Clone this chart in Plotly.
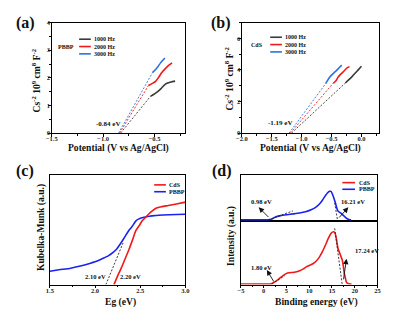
import plotly.graph_objects as go

W, H = 399, 314
FONT = "Liberation Serif"

# ---------------- data ----------------
# (a) PBBP Mott-Schottky
a_1000_x = [-0.54, -0.50, -0.47, -0.44, -0.41, -0.38, -0.34, -0.30]
a_1000_y = [1.33, 1.42, 1.50, 1.60, 1.72, 1.80, 1.85, 1.88]
a_2000_x = [-0.56, -0.52, -0.49, -0.46, -0.43, -0.39, -0.36, -0.33]
a_2000_y = [1.72, 1.80, 1.87, 2.02, 2.19, 2.35, 2.46, 2.54]
a_3000_x = [-0.52, -0.49, -0.47, -0.44, -0.40]
a_3000_y = [2.19, 2.30, 2.39, 2.55, 2.72]
a_fit_1000_x = [-0.83, -0.54]
a_fit_2000_x = [-0.84, -0.56]
a_fit_3000_x = [-0.85, -0.52]
a_fit_1000_y = [0, 1.33]
a_fit_2000_y = [0, 1.72]
a_fit_3000_y = [0, 2.19]

# (b) CdS Mott-Schottky
b_1000_x = [-0.27, -0.22, -0.15, -0.10, -0.05, 0.0]
b_1000_y = [3.17, 3.35, 3.61, 3.82, 4.02, 4.23]
b_2000_x = [-0.47, -0.43, -0.39, -0.35, -0.31, -0.24, -0.20]
b_2000_y = [3.17, 3.30, 3.55, 3.72, 3.86, 4.13, 4.21]
b_3000_x = [-0.60, -0.53, -0.47, -0.42, -0.37, -0.33]
b_3000_y = [3.13, 3.55, 3.78, 3.96, 4.15, 4.30]
b_fit_1000_x = [-1.17, -0.27]
b_fit_2000_x = [-1.19, -0.47]
b_fit_3000_x = [-1.21, -0.60]
b_fit_1000_y = [0, 3.17]
b_fit_2000_y = [0, 3.17]
b_fit_3000_y = [0, 3.13]

# (c) Kubelka-Munk
c_cds_x = [2.21, 2.25, 2.29, 2.34, 2.38, 2.42, 2.45, 2.49, 2.52, 2.56, 2.59, 2.63, 2.68, 2.74, 2.81, 2.90, 3.0]
c_cds_y = [0.0, 0.08, 0.15, 0.25, 0.33, 0.42, 0.49, 0.54, 0.58, 0.615, 0.64, 0.67, 0.70, 0.712, 0.722, 0.736, 0.753]
c_pbbp_x = [1.5, 1.6, 1.73, 1.85, 1.95, 2.03, 2.09, 2.15, 2.2, 2.24, 2.27, 2.31, 2.34, 2.37, 2.40, 2.43, 2.45, 2.48, 2.52, 2.57, 2.63, 2.75, 2.9, 3.0]
c_pbbp_y = [0.122, 0.135, 0.15, 0.172, 0.196, 0.218, 0.24, 0.265, 0.295, 0.325, 0.36, 0.41, 0.45, 0.49, 0.52, 0.555, 0.58, 0.598, 0.61, 0.62, 0.628, 0.635, 0.64, 0.643]
c_fit_x = [2.12, 2.31]
c_fit_y = [0.0, 0.38]

# (d) UPS / VB-XPS
d_pbbp_x = [-5, 0.5, 1.0, 1.8, 2.5, 3.7, 5.1, 6.5, 7.9, 9.2, 10.4, 11.4, 12.2, 12.9, 13.5, 14.0, 14.5, 14.8, 15.0, 15.3, 15.75, 16.3, 16.8, 17.2, 17.7, 18.2, 18.7, 19.2]
d_pbbp_y = [0, 0, 0.0, 0.02, 0.06, 0.095, 0.116, 0.133, 0.152, 0.18, 0.225, 0.28, 0.348, 0.44, 0.53, 0.60, 0.638, 0.635, 0.60, 0.52, 0.38, 0.2, 0.16, 0.13, 0.08, 0.036, 0.01, 0]
d_cds_x = [-5, 1.0, 1.5, 2.25, 3.0, 3.67, 4.4, 5.1, 5.7, 6.2, 7.0, 7.9, 8.6, 9.35, 10.1, 10.8, 11.5, 12.2, 12.9, 13.6, 14.2, 14.7, 15.1, 15.4, 15.7, 15.9, 16.1, 16.3, 16.8, 17.3, 17.5, 17.7, 18.0, 18.2, 18.7, 19.3]
d_cds_y = [0, 0, 0.0, 0.025, 0.06, 0.10, 0.14, 0.17, 0.178, 0.182, 0.19, 0.21, 0.235, 0.27, 0.295, 0.32, 0.36, 0.42, 0.51, 0.62, 0.72, 0.79, 0.82, 0.825, 0.80, 0.74, 0.66, 0.57, 0.47, 0.37, 0.28, 0.17, 0.08, 0.025, 0.005, 0]
d_fit_top_left_x = [0.98, 6.4]
d_fit_top_left_y = [0.0, 0.2]
d_fit_top_right_x = [15.6, 16.21]
d_fit_top_right_y = [0.38, 0.0]
d_fit_bot_left_x = [1.80, 4.6]
d_fit_bot_left_y = [0.0, 0.13]
d_fit_bot_right_x = [15.6, 17.24]
d_fit_bot_right_y = [0.88, 0.0]

# ---------------- styling ----------------
GRAY = "#3a3a3a"
RED = "#f01818"
BLUE_MS = "#2b72e0"
BLUE = "#1a22f0"


def px(x):
    return x / W


def py(y):
    return 1 - y / H


fig = go.Figure()


def line(x, y, color, xa, ya, width=1.6, dash=None):
    fig.add_trace(go.Scatter(x=x, y=y, mode="lines", xaxis=xa, yaxis=ya,
                             line=dict(color=color, width=width, dash=dash, shape="spline", smoothing=0.6),
                             showlegend=False, hoverinfo="skip"))


def fit(x, y, color, xa, ya):
    fig.add_trace(go.Scatter(x=x, y=y, mode="lines", xaxis=xa, yaxis=ya,
                             line=dict(color=color, width=0.9, dash="2px,1.6px"),
                             showlegend=False, hoverinfo="skip"))


# (a)
fit(a_fit_1000_x, a_fit_1000_y, GRAY, "x", "y")
fit(a_fit_2000_x, a_fit_2000_y, RED, "x", "y")
fit(a_fit_3000_x, a_fit_3000_y, BLUE_MS, "x", "y")
line(a_1000_x, a_1000_y, GRAY, "x", "y")
line(a_2000_x, a_2000_y, RED, "x", "y")
line(a_3000_x, a_3000_y, BLUE_MS, "x", "y")
# (b)
fit(b_fit_1000_x, b_fit_1000_y, GRAY, "x2", "y2")
fit(b_fit_2000_x, b_fit_2000_y, RED, "x2", "y2")
fit(b_fit_3000_x, b_fit_3000_y, BLUE_MS, "x2", "y2")
line(b_1000_x, b_1000_y, GRAY, "x2", "y2")
line(b_2000_x, b_2000_y, RED, "x2", "y2")
line(b_3000_x, b_3000_y, BLUE_MS, "x2", "y2")
# (c)
fit(c_fit_x, c_fit_y, "#222222", "x3", "y3")
line(c_pbbp_x, c_pbbp_y, BLUE, "x3", "y3")
line(c_cds_x, c_cds_y, RED, "x3", "y3")
# (d)
line(d_pbbp_x, d_pbbp_y, BLUE, "x5", "y5")
line(d_cds_x, d_cds_y, RED, "x4", "y4")
fit(d_fit_top_left_x, d_fit_top_left_y, "#222222", "x5", "y5")
fit(d_fit_top_right_x, d_fit_top_right_y, "#222222", "x5", "y5")
fit(d_fit_bot_left_x, d_fit_bot_left_y, "#222222", "x4", "y4")
fit(d_fit_bot_right_x, d_fit_bot_right_y, "#222222", "x4", "y4")

tickfont = dict(family=FONT, size=6.5, color="#222", weight="bold")
axcommon = dict(showline=True, linecolor="black", linewidth=1, mirror=True,
                ticks="outside", ticklen=2.5, tickwidth=0.8, tickcolor="black",
                showgrid=False, zeroline=False, tickfont=tickfont, ticklabelstandoff=-3)
noticks = dict(showline=True, linecolor="black", linewidth=1, mirror=True,
               showticklabels=False, ticks="", showgrid=False, zeroline=False)
minor = lambda d: dict(ticks="outside", ticklen=1.5, dtick=d, tickcolor="black")

xa_dom = [px(47), px(184)]
xb_dom = [px(242), px(383)]
yab_dom = [py(132), py(19)]
xc_dom = [px(45), px(184)]
yc_dom = [py(287), py(175)]
xd_dom = [px(241), px(381)]
yd_top = [py(221.7), py(175)]
yd_bot = [py(287), py(221.7)]

fig.update_layout(
    width=W, height=H, margin=dict(l=0, r=0, t=0, b=0),
    paper_bgcolor="white", plot_bgcolor="white", showlegend=False,
    xaxis=dict(domain=xa_dom, anchor="y", range=[-1.5, -0.2], dtick=0.5, tick0=-1.5,
               tickformat=".1f", minor=minor(0.25), **axcommon),
    yaxis=dict(domain=yab_dom, anchor="x", range=[0, 4], dtick=1, minor=minor(0.5), **axcommon),
    xaxis2=dict(domain=xb_dom, anchor="y2", range=[-2.0, 0.3], dtick=0.5, tick0=-2.0,
                tickformat=".1f", minor=minor(0.25), **axcommon),
    yaxis2=dict(domain=yab_dom, anchor="x2", range=[0, 7], dtick=2, minor=minor(1), **axcommon),
    xaxis3=dict(domain=xc_dom, anchor="y3", range=[1.5, 3.0], dtick=0.5, tick0=1.5,
                tickformat=".1f", minor=minor(0.25), **axcommon),
    yaxis3=dict(domain=yc_dom, anchor="x3", range=[0, 1], **noticks),
    xaxis4=dict(domain=xd_dom, anchor="y4", range=[-5, 25], dtick=5, tick0=-5,
                minor=minor(2.5), **axcommon),
    yaxis4=dict(domain=yd_bot, anchor="x4", range=[-0.01, 1], **noticks),
    xaxis5=dict(domain=xd_dom, anchor="y5", range=[-5, 25], matches="x4", **noticks),
    yaxis5=dict(domain=yd_top, anchor="x5", range=[-0.02, 1], **noticks),
)

ann = []
shapes = []


def text(x, y, s, size=7, xanchor="center", color="#111", angle=0):
    ann.append(dict(x=px(x), y=py(y), xref="paper", yref="paper", text=s, showarrow=False,
                    xanchor=xanchor, yanchor="middle", textangle=angle,
                    font=dict(family=FONT, size=size, color=color, weight="bold")))


def legline(x0, x1, y, color):
    shapes.append(dict(type="line", xref="paper", yref="paper", x0=px(x0), x1=px(x1),
                       y0=py(y), y1=py(y), line=dict(color=color, width=1.6)))


# panel labels
text(19.5, 19, "(a)", size=16)
text(221, 19, "(b)", size=16)
text(19.5, 171, "(c)", size=16)
text(222, 171, "(d)", size=16)

# axis titles
sup = "Cs<sup>-2</sup> 10<sup>9</sup> cm<sup>8</sup> F<sup>-2</sup>"
text(115, 147, "Potential (V vs Ag/AgCl)", 9.6)
text(312, 147, "Potential (V vs Ag/AgCl)", 9.6)
text(117, 305, "Eg (eV)", 9.6)
text(318, 304.5, "Binding energy (eV)", 9.6)
text(31, 78, sup, 9.6, angle=-90)
text(229, 76, sup, 9.6, angle=-90)
text(36, 229, "Kubelka-Munk (a.u.)", 9.6, angle=-90)
text(231, 237, "Intensity (a.u.)", 9.6, angle=-90)

# (a) legend
legline(75, 87, 36, GRAY); legline(75, 87, 43.5, RED); legline(75, 87, 51, BLUE_MS)
text(88.5, 36, "1000 Hz", 6, "left"); text(88.5, 43.5, "2000 Hz", 6, "left"); text(88.5, 51, "3000 Hz", 6, "left")
text(72, 43.5, "PBBP", 6, "right")
text(105, 123, "-0.84 eV", 7)
# (b) legend
legline(271, 283, 34, GRAY); legline(271, 283, 41.5, RED); legline(271, 283, 49, BLUE_MS)
text(284.5, 34, "1000 Hz", 6, "left"); text(284.5, 41.5, "2000 Hz", 6, "left"); text(284.5, 49, "3000 Hz", 6, "left")
text(266, 41.5, "CdS", 6, "right")
text(282, 122, "-1.19 eV", 7)
# (c) legend
legline(152, 164, 185, RED); legline(152, 164, 192, BLUE)
text(165.5, 185, "CdS", 6, "left"); text(165.5, 192, "PBBP", 6, "left")
text(92, 279, "2.10 eV", 6.5)
text(128, 279, "2.20 eV", 6.5)
# (d) legend
legline(345, 358, 182.7, RED); legline(345, 358, 189.5, BLUE)
text(360, 182.7, "CdS", 6, "left"); text(360, 189.5, "PBBP", 6, "left")
text(262, 202, "0.98 eV", 6.5)
text(356, 202, "16.21 eV", 6.5)
text(262, 269, "1.80 eV", 6.5)
text(370, 252, "17.24 eV", 6.5)

# arrows in (d): (head_x, head_y, tail_x, tail_y, xref, yref)
arrows = [(-1.1, 0.28, 1.36, 0.03, "x5", "y5"),
          (18.6, 0.28, 16.3, 0.02, "x5", "y5"),
          (0.69, 0.22, 2.4, 0.015, "x4", "y4"),
          (18.2, 0.40, 17.5, 0.05, "x4", "y4")]
for hx, hy, tx, ty, xr, yr in arrows:
    ann.append(dict(x=hx, y=hy, ax=tx, ay=ty, xref=xr, yref=yr, axref=xr, ayref=yr,
                    text="", showarrow=True, arrowhead=2, arrowsize=1.2, arrowwidth=0.9,
                    arrowcolor="#111"))

fig.update_layout(annotations=ann, shapes=shapes)
fig.write_html("out.html", config={"displayModeBar": False},
               post_script="document.body.style.margin='0px';document.body.style.overflow='hidden';")
